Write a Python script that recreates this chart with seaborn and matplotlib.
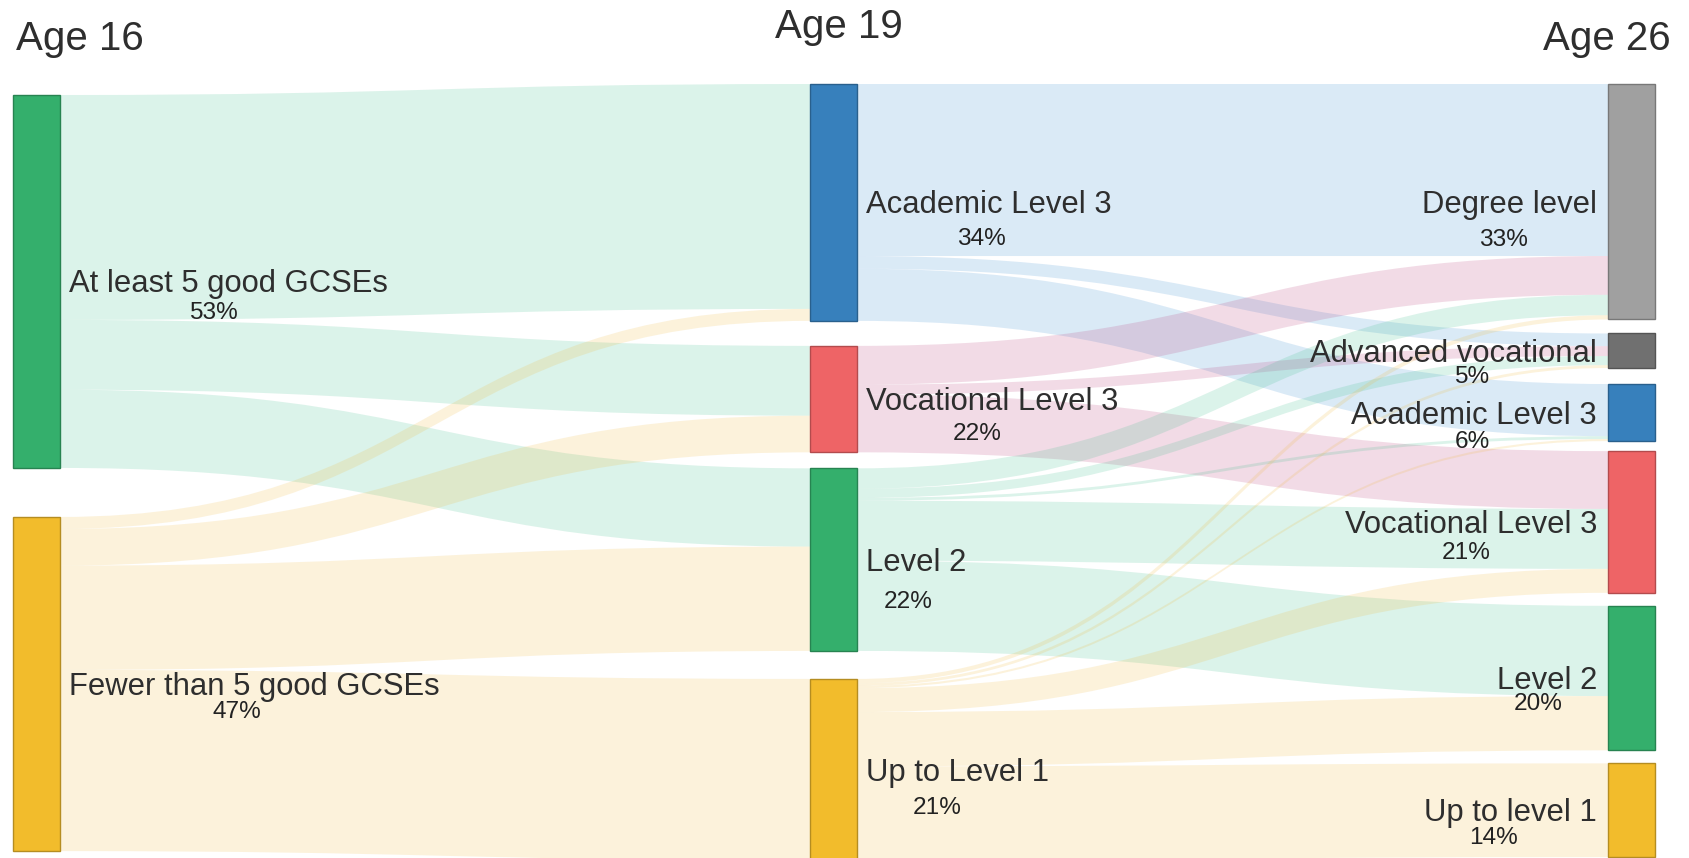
import numpy as np
import pandas as pd
import seaborn as sns
import matplotlib
matplotlib.use("Agg")
import matplotlib.pyplot as plt
from matplotlib.path import Path
from matplotlib.patches import PathPatch, Rectangle

sns.set_theme(style="white")
plt.rcParams['font.family'] = ['Liberation Sans', 'DejaVu Sans']

# ---------------- data ----------------
stages = ["Age 16", "Age 19", "Age 26"]

nodes_16 = ["At least 5 good GCSEs", "Fewer than 5 good GCSEs"]
pct_16 = ["53%", "47%"]

nodes_19 = ["Academic Level 3", "Vocational Level 3", "Level 2", "Up to Level 1"]
pct_19 = ["34%", "22%", "22%", "21%"]

nodes_26 = ["Degree level", "Advanced vocational", "Academic Level 3",
            "Vocational Level 3", "Level 2", "Up to level 1"]
pct_26 = ["33%", "5%", "6%", "21%", "20%", "14%"]

# flow sizes (rows = source node, cols = target node)
flows_16_19 = [
    [31.9, 9.9, 11.1, 0.0],
    [1.7, 5.2, 14.8, 25.7],
]
flows_19_26 = [
    [24.4, 1.8, 7.4, 0.0, 0.0, 0.0],
    [5.5, 1.4, 0.0, 8.2, 0.0, 0.0],
    [2.9, 1.3, 0.4, 8.5, 12.8, 0.0],
    [0.6, 0.4, 0.3, 3.4, 7.7, 13.3],
]

# ---------------- styling / layout ----------------
node_colors = [
    ["#34af6c", "#f2bc2c"],
    ["#3780bc", "#ee6466", "#34af6c", "#f2bc2c"],
    ["#a0a0a0", "#707070", "#3780bc", "#ee6466", "#34af6c", "#f2bc2c"],
]
link_colors = [
    ["#3cbe8c", "#f0b93c"],
    ["#378cd2", "#b93c78", "#3cbe8c", "#f0b93c"],
]
link_alpha = 0.18

W, H = 1690, 858
col_x = [13, 810, 1608]
node_w = 47
col_top = [95, 84, 84]
col_gaps = [[49], [25, 16, 28], [14, 16, 10, 13, 13]]
scale = 7.05  # px per unit
label_dy = 3
pct_dy = [[32, 28], [37, 35, 42, 38], [38, 26, 29, 31, 26, 28]]
pct_dx = [[144, 168], [115, 111, 42, 71], [-94, -125, -125, -131, -59, -103]]

names = [nodes_16, nodes_19, nodes_26]
pcts = [pct_16, pct_19, pct_26]
F = [np.array(flows_16_19), np.array(flows_19_26)]

sizes = [F[0].sum(axis=1), F[0].sum(axis=0), F[1].sum(axis=0)]

node_pos = []
for c in range(3):
    y = col_top[c]
    pos = []
    for i, v in enumerate(sizes[c]):
        h = v * scale
        pos.append((y, y + h))
        y += h
        if i < len(col_gaps[c]):
            y += col_gaps[c][i]
    node_pos.append(pos)

fig = plt.figure(figsize=(16.9, 8.58), dpi=100)
ax = fig.add_axes([0, 0, 1, 1])
ax.set_xlim(0, W)
ax.set_ylim(H, 0)
ax.axis("off")

# ---------------- links ----------------
for c in range(2):
    M = F[c]
    ns, nt = M.shape
    src_start = np.zeros_like(M)
    tgt_start = np.zeros_like(M)
    for i in range(ns):
        y = node_pos[c][i][0]
        for j in range(nt):
            src_start[i, j] = y
            y += M[i, j] * scale
    for j in range(nt):
        y = node_pos[c + 1][j][0]
        for i in range(ns):
            tgt_start[i, j] = y
            y += M[i, j] * scale
    xs = col_x[c] + node_w
    xt = col_x[c + 1]
    xm = (xs + xt) / 2
    for i in range(ns):
        for j in range(nt):
            v = M[i, j]
            if v <= 0:
                continue
            h = v * scale
            s0, t0 = src_start[i, j], tgt_start[i, j]
            s1, t1 = s0 + h, t0 + h
            verts = [(xs, s0), (xm, s0), (xm, t0), (xt, t0),
                     (xt, t1), (xm, t1), (xm, s1), (xs, s1), (xs, s0)]
            codes = [Path.MOVETO, Path.CURVE4, Path.CURVE4, Path.CURVE4,
                     Path.LINETO, Path.CURVE4, Path.CURVE4, Path.CURVE4,
                     Path.CLOSEPOLY]
            ax.add_patch(PathPatch(Path(verts, codes), facecolor=link_colors[c][i],
                                   edgecolor="none", alpha=link_alpha, zorder=1))

# ---------------- nodes ----------------
for c in range(3):
    for i, (y0, y1) in enumerate(node_pos[c]):
        col = node_colors[c][i]
        edge = tuple(np.array(matplotlib.colors.to_rgb(col)) * 0.75)
        ax.add_patch(Rectangle((col_x[c], y0), node_w, y1 - y0, facecolor=col,
                               edgecolor=edge, lw=1.0, zorder=3))

# ---------------- labels ----------------
txt_color = "#2e2e2e"
label_fs = 22.3
pct_fs = 17.6
for c in range(3):
    for i, (y0, y1) in enumerate(node_pos[c]):
        yc = (y0 + y1) / 2 + label_dy
        if c < 2:
            ax0 = col_x[c] + node_w + 9
            ax.text(ax0, yc, names[c][i], ha="left", va="center",
                    fontsize=label_fs, color=txt_color, zorder=5)
        else:
            ax0 = col_x[c] - 11
            ax.text(ax0, yc, names[c][i], ha="right", va="center",
                    fontsize=label_fs, color=txt_color, zorder=5)
        ax.text(ax0 + pct_dx[c][i], yc + pct_dy[c][i] - label_dy, pcts[c][i],
                ha="center", va="center", fontsize=pct_fs, color="#222222", zorder=5)

# stage headers
hdr_fs = 29
ax.text(16, 39, stages[0], ha="left", va="center", fontsize=hdr_fs, color=txt_color)
ax.text(839, 27, stages[1], ha="center", va="center", fontsize=hdr_fs, color=txt_color)
ax.text(1671, 39, stages[2], ha="right", va="center", fontsize=hdr_fs, color=txt_color)

fig.savefig("out.png", dpi=100, facecolor="white")
